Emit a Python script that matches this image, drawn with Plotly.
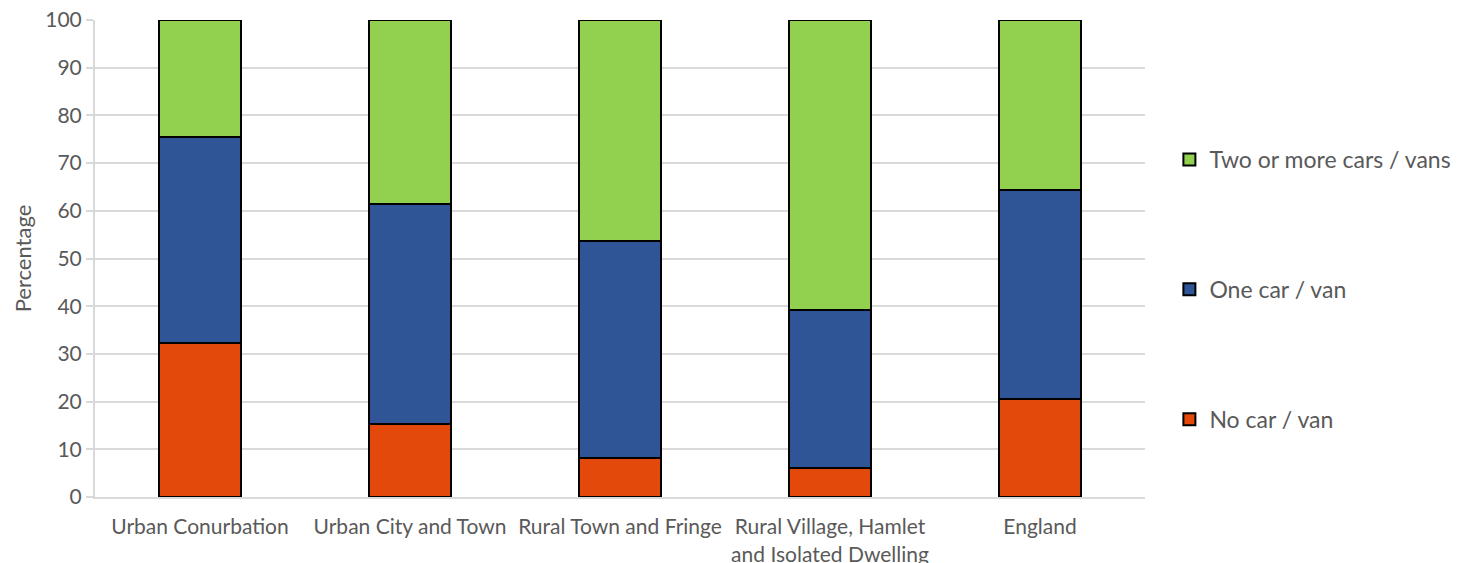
import plotly.graph_objects as go

categories = [
    "Urban Conurbation",
    "Urban City and Town",
    "Rural Town and Fringe",
    "Rural Village, Hamlet<br>and Isolated Dwelling",
    "England",
]
no_car = [32.3, 15.4, 8.2, 6.0, 20.5]
one_car = [43.1, 46.0, 45.4, 33.1, 43.8]
two_plus = [24.6, 38.6, 46.4, 60.9, 35.7]

series = [
    ("No car / van", no_car, "#E2490A", 3),
    ("One car / van", one_car, "#2F5597", 2),
    ("Two or more cars / vans", two_plus, "#92D050", 1),
]

fig = go.Figure()
for name, vals, color, rank in series:
    fig.add_trace(go.Bar(
        x=categories, y=vals, name=name, legendgroup=name, legendrank=rank,
        marker=dict(color=color, line=dict(color="#000000", width=2)),
    ))

base_font = "Lato, Open Sans, sans-serif"
grey = "#595959"

fig.update_layout(
    width=1459, height=563,
    margin=dict(l=95, r=314, t=20, b=66),
    barmode="stack",
    bargap=0.605,
    plot_bgcolor="white",
    paper_bgcolor="white",
    legend=dict(
        xref="container", yref="container",
        x=0.8015, y=0.755, xanchor="left", yanchor="top",
        maxheight=420,
        traceorder="grouped",
        tracegroupgap=97,
        font=dict(family=base_font, size=23, color=grey),
    ),
    xaxis=dict(
        showline=True, linecolor="#d9d9d9", linewidth=2,
        tickfont=dict(family=base_font, size=21, color=grey),
        ticks="",
        ticklabelstandoff=10,
        automargin=False,
    ),
    yaxis=dict(
        range=[0, 100], dtick=10,
        showgrid=True, gridcolor="#d9d9d9", gridwidth=2,
        showline=True, linecolor="#d9d9d9", linewidth=2,
        ticks="outside", ticklen=7, tickcolor="#d9d9d9", tickwidth=2,
        tickfont=dict(family=base_font, size=21, color=grey),
        title=dict(text="Percentage", font=dict(family=base_font, size=22, color=grey),
                   standoff=8),
        zeroline=False,
        automargin=False,
    ),
)

fig.write_html("out.html")
